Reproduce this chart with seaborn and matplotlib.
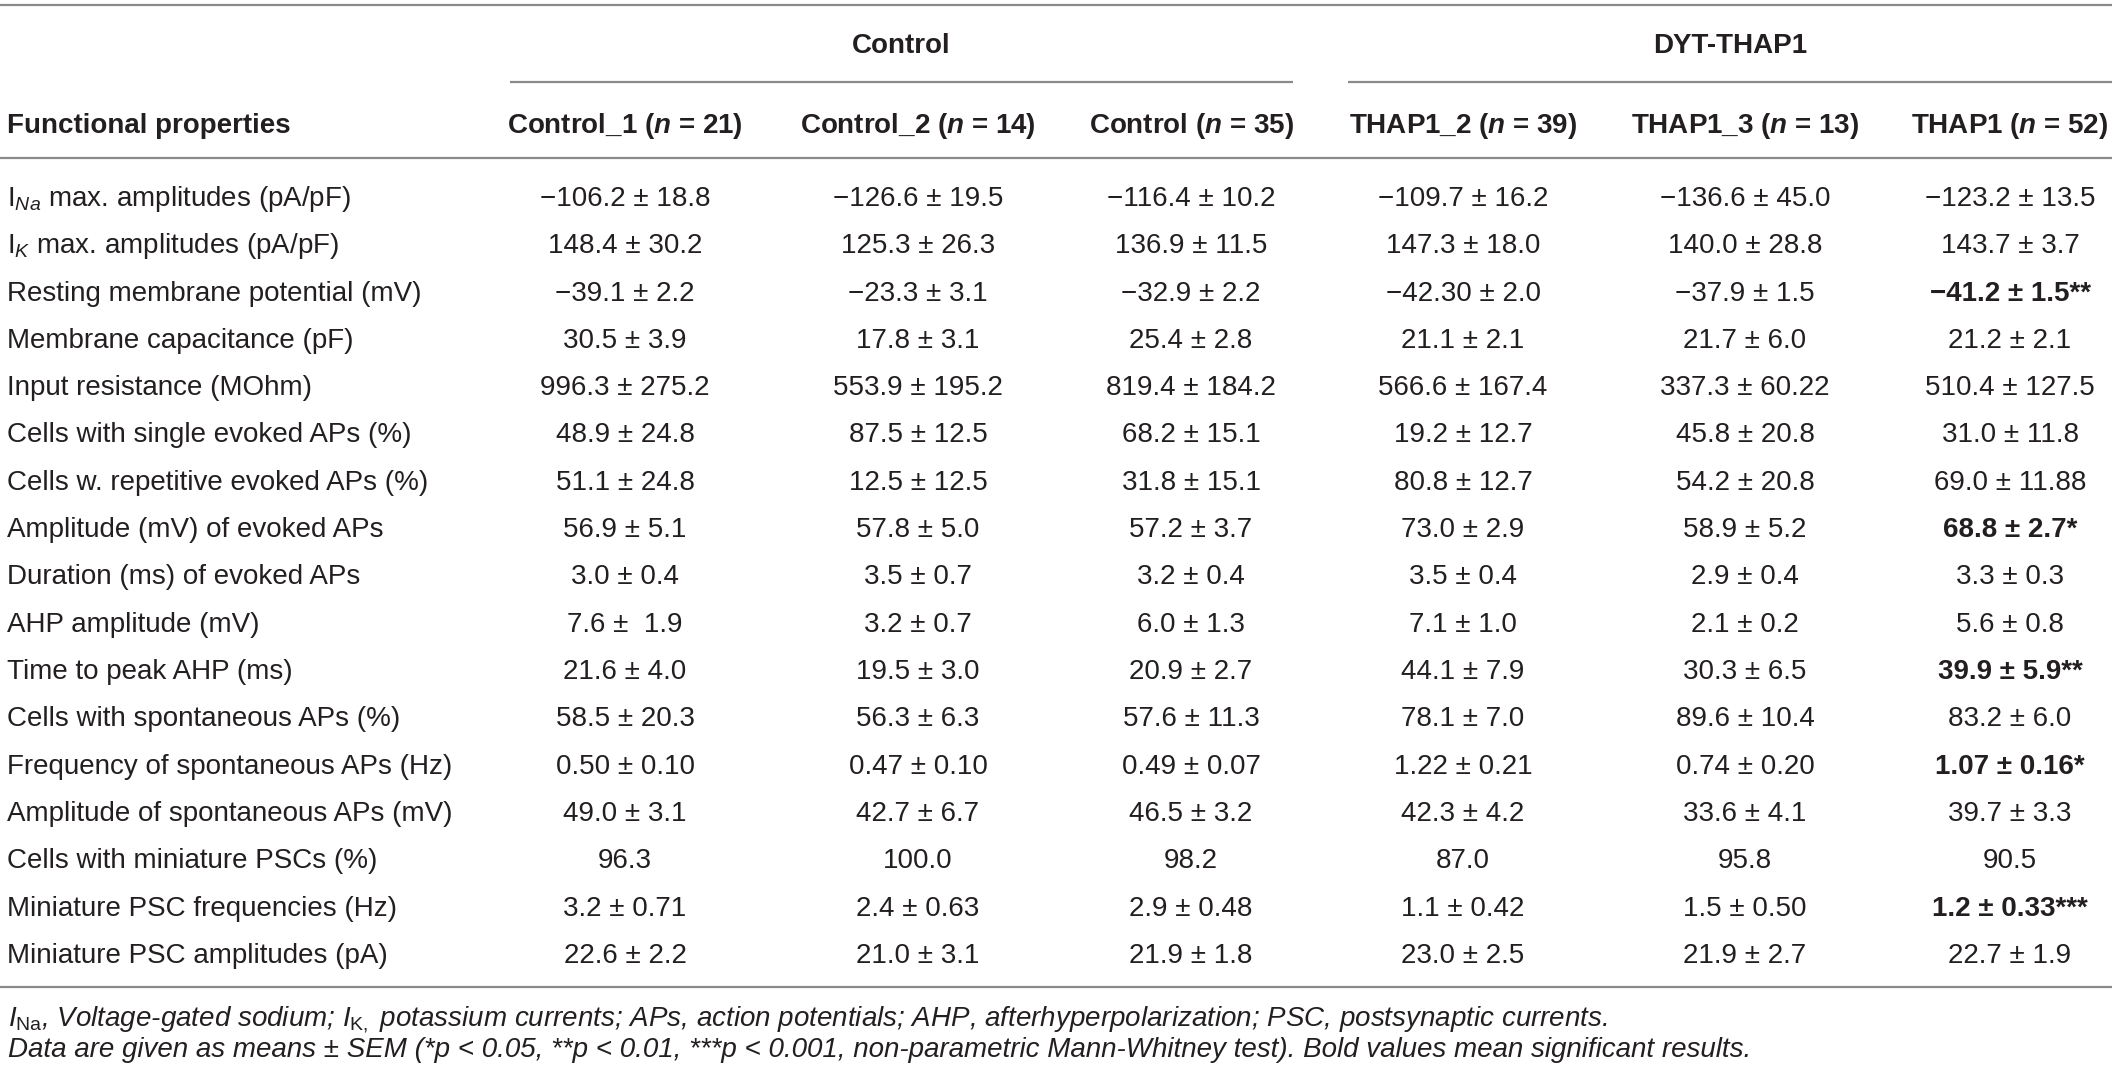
import matplotlib
matplotlib.use("Agg")
import matplotlib.pyplot as plt
import seaborn as sns

# ==================================================
# TABLE DATA
# ==================================================

groups = ["Control", "DYT-THAP1"]

col_names = ["Control_1", "Control_2", "Control", "THAP1_2", "THAP1_3", "THAP1"]
col_n = [21, 14, 35, 39, 13, 52]

properties = [
    r"I$_{\mathit{Na}}$ max. amplitudes (pA/pF)",
    r"I$_{\mathit{K}}$ max. amplitudes (pA/pF)",
    "Resting membrane potential (mV)",
    "Membrane capacitance (pF)",
    "Input resistance (MOhm)",
    "Cells with single evoked APs (%)",
    "Cells w. repetitive evoked APs (%)",
    "Amplitude (mV) of evoked APs",
    "Duration (ms) of evoked APs",
    "AHP amplitude (mV)",
    "Time to peak AHP (ms)",
    "Cells with spontaneous APs (%)",
    "Frequency of spontaneous APs (Hz)",
    "Amplitude of spontaneous APs (mV)",
    "Cells with miniature PSCs (%)",
    "Miniature PSC frequencies (Hz)",
    "Miniature PSC amplitudes (pA)",
]

control_1 = ["−106.2 ± 18.8", "148.4 ± 30.2", "−39.1 ± 2.2", "30.5 ± 3.9",
             "996.3 ± 275.2", "48.9 ± 24.8", "51.1 ± 24.8", "56.9 ± 5.1",
             "3.0 ± 0.4", "7.6 ±  1.9", "21.6 ± 4.0", "58.5 ± 20.3",
             "0.50 ± 0.10", "49.0 ± 3.1", "96.3", "3.2 ± 0.71", "22.6 ± 2.2"]
control_2 = ["−126.6 ± 19.5", "125.3 ± 26.3", "−23.3 ± 3.1", "17.8 ± 3.1",
             "553.9 ± 195.2", "87.5 ± 12.5", "12.5 ± 12.5", "57.8 ± 5.0",
             "3.5 ± 0.7", "3.2 ± 0.7", "19.5 ± 3.0", "56.3 ± 6.3",
             "0.47 ± 0.10", "42.7 ± 6.7", "100.0", "2.4 ± 0.63", "21.0 ± 3.1"]
control_all = ["−116.4 ± 10.2", "136.9 ± 11.5", "−32.9 ± 2.2", "25.4 ± 2.8",
               "819.4 ± 184.2", "68.2 ± 15.1", "31.8 ± 15.1", "57.2 ± 3.7",
               "3.2 ± 0.4", "6.0 ± 1.3", "20.9 ± 2.7", "57.6 ± 11.3",
               "0.49 ± 0.07", "46.5 ± 3.2", "98.2", "2.9 ± 0.48", "21.9 ± 1.8"]
thap1_2 = ["−109.7 ± 16.2", "147.3 ± 18.0", "−42.30 ± 2.0", "21.1 ± 2.1",
           "566.6 ± 167.4", "19.2 ± 12.7", "80.8 ± 12.7", "73.0 ± 2.9",
           "3.5 ± 0.4", "7.1 ± 1.0", "44.1 ± 7.9", "78.1 ± 7.0",
           "1.22 ± 0.21", "42.3 ± 4.2", "87.0", "1.1 ± 0.42", "23.0 ± 2.5"]
thap1_3 = ["−136.6 ± 45.0", "140.0 ± 28.8", "−37.9 ± 1.5", "21.7 ± 6.0",
           "337.3 ± 60.22", "45.8 ± 20.8", "54.2 ± 20.8", "58.9 ± 5.2",
           "2.9 ± 0.4", "2.1 ± 0.2", "30.3 ± 6.5", "89.6 ± 10.4",
           "0.74 ± 0.20", "33.6 ± 4.1", "95.8", "1.5 ± 0.50", "21.9 ± 2.7"]
thap1_all = ["−123.2 ± 13.5", "143.7 ± 3.7", "−41.2 ± 1.5**", "21.2 ± 2.1",
             "510.4 ± 127.5", "31.0 ± 11.8", "69.0 ± 11.88", "68.8 ± 2.7*",
             "3.3 ± 0.3", "5.6 ± 0.8", "39.9 ± 5.9**", "83.2 ± 6.0",
             "1.07 ± 0.16*", "39.7 ± 3.3", "90.5", "1.2 ± 0.33***", "22.7 ± 1.9"]

# significant rows in the pooled THAP1 column (printed bold)
thap1_bold = [2, 7, 10, 12, 15]

footnotes = [
    r"$\mathit{I}_{\mathrm{Na}}$, Voltage-gated sodium; $\mathit{I}_{\mathrm{K},}$ potassium currents; "
    "APs, action potentials; AHP, afterhyperpolarization; PSC, postsynaptic currents.",
    "Data are given as means ± SEM (*p < 0.05, **p < 0.01, ***p < 0.001, "
    "non-parametric Mann-Whitney test). Bold values mean significant results.",
]

columns = [control_1, control_2, control_all, thap1_2, thap1_3, thap1_all]

# ==================================================
# STYLE
# ==================================================

sns.set_theme(style="white")
plt.rcParams["font.family"] = ["Liberation Sans", "DejaVu Sans"]
plt.rcParams["mathtext.fontset"] = "custom"
plt.rcParams["mathtext.rm"] = "Liberation Sans"
plt.rcParams["mathtext.it"] = "Liberation Sans:italic"
plt.rcParams["mathtext.bf"] = "Liberation Sans:bold"
plt.rcParams["mathtext.bfit"] = "Liberation Sans:italic:bold"

TXT = "#231f20"
RULE = "#8a8a8a"
FS = 20

# ==================================================
# LAYOUT (pixels of the 2118 x 1073 canvas)
# ==================================================

W, H = 2118, 1073
col_x = [625, 918, 1191, 1463, 1745, 2010]
group_span = [(510, 1293), (1348, 2112)]
row_y0, row_dy = 196, 47.3
half_cap = 10

fig = plt.figure(figsize=(W / 100, H / 100), dpi=100)
ax = fig.add_axes([0, 0, 1, 1])
ax.set_xlim(0, W)
ax.set_ylim(H, 0)
ax.axis("off")

# rules
for y in [5, 158, 987]:
    ax.plot([0, 2112], [y, y], color=RULE, lw=1.6, solid_capstyle="butt")

# group headers
for name, (x0, x1) in zip(groups, group_span):
    ax.text((x0 + x1) / 2, 43 + half_cap, name, ha="center", va="baseline",
            fontsize=FS, fontweight="bold", color=TXT)
    ax.plot([x0, x1], [82, 82], color=RULE, lw=1.6, solid_capstyle="butt")

# column headers
ax.text(7, 123 + half_cap, "Functional properties", ha="left", va="baseline",
        fontsize=FS, fontweight="bold", color=TXT)
for x, name, n in zip(col_x, col_names, col_n):
    ax.text(x, 123 + half_cap, name + r" ($\mathbfit{n}$ = " + str(n) + ")",
            ha="center", va="baseline", fontsize=FS, fontweight="bold", color=TXT)

# body
for i, prop in enumerate(properties):
    y = row_y0 + i * row_dy + half_cap
    ax.text(7, y, prop, ha="left", va="baseline", fontsize=FS, color=TXT)
    for j, col in enumerate(columns):
        bold = (j == 5 and i in thap1_bold)
        ax.text(col_x[j], y, col[i], ha="center", va="baseline", fontsize=FS,
                fontweight="bold" if bold else "normal", color=TXT)

# footnotes
for k, note in enumerate(footnotes):
    ax.text(8, 1016 + k * 31 + half_cap, note, ha="left", va="baseline",
            fontsize=FS, style="italic", color=TXT)

fig.savefig("out.png", dpi=100)
